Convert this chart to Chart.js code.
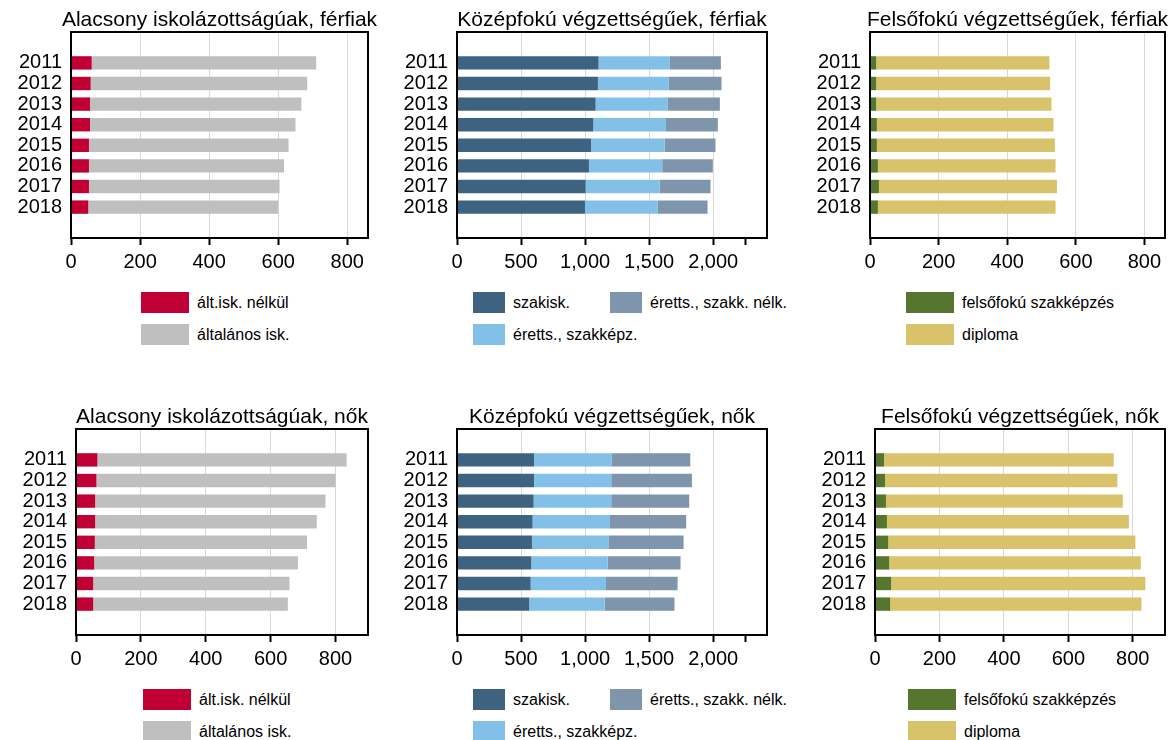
<!DOCTYPE html>
<html lang="hu">
<head>
<meta charset="utf-8">
<title>Végzettség szerinti megoszlás, 2011–2018</title>
<script src="https://cdn.jsdelivr.net/npm/chart.js@4.4.1/dist/chart.umd.min.js"></script>
<style>
  html, body { margin: 0; padding: 0; background: #fff; }
  body {
    width: 1169px; height: 740px; position: relative; overflow: hidden;
    font-family: "Liberation Sans", Arial, sans-serif;
  }
  .panel { position: absolute; }
  .legend-item {
    position: absolute; display: flex; align-items: center;
    height: 21px; white-space: nowrap; font-size: 16px; color: #000;
  }
  .legend-item .box { display: inline-block; height: 21px; margin-right: 8px; }
</style>
</head>
<body>
<div class="panel" id="p1"><canvas id="c1"></canvas></div>
<div class="panel" id="p2"><canvas id="c2"></canvas></div>
<div class="panel" id="p3"><canvas id="c3"></canvas></div>
<div class="panel" id="p4"><canvas id="c4"></canvas></div>
<div class="panel" id="p5"><canvas id="c5"></canvas></div>
<div class="panel" id="p6"><canvas id="c6"></canvas></div>
<script>
const years = ["2011", "2012", "2013", "2014", "2015", "2016", "2017", "2018"];

// alacsony iskolázottságúak
const noPrimaryMen = [60, 57, 55, 55, 52, 52, 52, 50];
const primaryMen = [650, 627, 612, 595, 578, 565, 552, 550];
const noPrimaryWomen = [66, 63, 59, 59, 58, 56, 53, 53];
const primaryWomen = [768, 737, 710, 683, 654, 628, 605, 600];

// középfokú végzettségűek
const vocationalMen = [1105, 1100, 1082, 1064, 1046, 1030, 1004, 999];
const maturaVocMen = [557, 554, 564, 567, 574, 572, 577, 569];
const maturaOnlyMen = [398, 411, 406, 405, 398, 395, 398, 388];
const vocationalWomen = [601, 601, 598, 590, 585, 580, 575, 564];
const maturaVocWomen = [608, 603, 606, 604, 601, 596, 588, 588];
const maturaOnlyWomen = [612, 630, 609, 595, 583, 569, 559, 546];

// felsőfokú végzettségűek
const higherVocMen = [18, 18, 18, 20, 20, 23, 26, 23];
const degreeMen = [505, 507, 511, 515, 519, 518, 519, 518];
const higherVocWomen = [28, 31, 34, 37, 41, 44, 50, 47];
const degreeWomen = [713, 721, 735, 751, 767, 781, 789, 780];

const lowTicks = [0, 200, 400, 600, 800];
const lowTickLabels = ["0", "200", "400", "600", "800"];
const midTicks = [0, 500, 1000, 1500, 2000, 2250];
const midTickLabels = ["0", "500", "1,000", "1,500", "2,000", ""];

const COLORS = {
  noPrimary: "#C00035",
  primary: "#BFBFBF",
  vocational: "#3E6381",
  maturaVoc: "#83C0E8",
  maturaOnly: "#7E95AC",
  higherVoc: "#56762F",
  degree: "#D8C26A",
  grid: "#D9D9D9",
};

Chart.defaults.font.family = '"Liberation Sans", Arial, sans-serif';
Chart.defaults.color = "#000";

// keret a rajzterület körül + cím a rajzterület közepére
const panelDecor = {
  id: "panelDecor",
  afterDatasetsDraw(chart, args, opts) {
    const { ctx, chartArea: a } = chart;
    ctx.save();
    ctx.strokeStyle = "#000";
    ctx.lineWidth = 2;
    ctx.strokeRect(a.left, a.top, a.right - a.left, a.bottom - a.top);
    ctx.fillStyle = "#000";
    ctx.font = '21px "Liberation Sans", Arial, sans-serif';
    ctx.textAlign = "center";
    ctx.textBaseline = "alphabetic";
    ctx.fillText(opts.text, (a.left + a.right) / 2, a.top - 6);
    ctx.restore();
  },
};

const panels = [
  {
    id: 1, title: "Alacsony iskolázottságúak, férfiak",
    left: 0, top: 0, padTop: 32, axisW: 71, plotW: 297, padRight: 12,
    max: 860, ticks: lowTicks, tickLabels: lowTickLabels,
    legend: { cols: [141], rows: [292, 324], boxW: 48 },
    series: [
      { label: "ált.isk. nélkül", data: noPrimaryMen, color: COLORS.noPrimary },
      { label: "általános isk.", data: primaryMen, color: COLORS.primary },
    ],
  },
  {
    id: 2, title: "Középfokú végzettségűek, férfiak",
    left: 390, top: 0, padTop: 32, axisW: 67, plotW: 310, padRight: 15,
    max: 2420, ticks: midTicks, tickLabels: midTickLabels,
    legend: { cols: [473, 610], rows: [292, 324], boxW: 32 },
    series: [
      { label: "szakisk.", data: vocationalMen, color: COLORS.vocational },
      { label: "éretts., szakképz.", data: maturaVocMen, color: COLORS.maturaVoc },
      { label: "éretts., szakk. nélk.", data: maturaOnlyMen, color: COLORS.maturaOnly },
    ],
  },
  {
    id: 3, title: "Felsőfokú végzettségűek, férfiak",
    left: 790, top: 0, padTop: 32, axisW: 80, plotW: 295, padRight: 4,
    max: 860, ticks: lowTicks, tickLabels: lowTickLabels,
    legend: { cols: [906], rows: [292, 324], boxW: 48 },
    series: [
      { label: "felsőfokú szakképzés", data: higherVocMen, color: COLORS.higherVoc },
      { label: "diploma", data: degreeMen, color: COLORS.degree },
    ],
  },
  {
    id: 4, title: "Alacsony iskolázottságúak, nők",
    left: 0, top: 395, padTop: 34, axisW: 76, plotW: 292, padRight: 12,
    max: 900, ticks: lowTicks, tickLabels: lowTickLabels,
    legend: { cols: [143], rows: [689, 721], boxW: 48 },
    series: [
      { label: "ált.isk. nélkül", data: noPrimaryWomen, color: COLORS.noPrimary },
      { label: "általános isk.", data: primaryWomen, color: COLORS.primary },
    ],
  },
  {
    id: 5, title: "Középfokú végzettségűek, nők",
    left: 390, top: 395, padTop: 34, axisW: 67, plotW: 310, padRight: 15,
    max: 2420, ticks: midTicks, tickLabels: midTickLabels,
    legend: { cols: [473, 610], rows: [689, 721], boxW: 32 },
    series: [
      { label: "szakisk.", data: vocationalWomen, color: COLORS.vocational },
      { label: "éretts., szakképz.", data: maturaVocWomen, color: COLORS.maturaVoc },
      { label: "éretts., szakk. nélk.", data: maturaOnlyWomen, color: COLORS.maturaOnly },
    ],
  },
  {
    id: 6, title: "Felsőfokú végzettségűek, nők",
    left: 790, top: 395, padTop: 34, axisW: 85, plotW: 290, padRight: 4,
    max: 900, ticks: lowTicks, tickLabels: lowTickLabels,
    legend: { cols: [908], rows: [689, 721], boxW: 48 },
    series: [
      { label: "felsőfokú szakképzés", data: higherVocWomen, color: COLORS.higherVoc },
      { label: "diploma", data: degreeWomen, color: COLORS.degree },
    ],
  },
];

const PLOT_H = 206;
const X_AXIS_H = 40;

function buildLegend(p, chart) {
  chart.data.datasets.forEach((ds, i) => {
    const item = document.createElement("div");
    item.className = "legend-item";
    item.style.left = p.legend.cols[Math.floor(i / 2)] + "px";
    item.style.top = p.legend.rows[i % 2] + "px";
    const box = document.createElement("span");
    box.className = "box";
    box.style.width = p.legend.boxW + "px";
    box.style.background = ds.backgroundColor;
    const text = document.createElement("span");
    text.textContent = ds.label;
    item.append(box, text);
    document.body.appendChild(item);
  });
}

function initPanel(p) {
  const wrap = document.getElementById("p" + p.id);
  wrap.style.left = p.left + "px";
  wrap.style.top = p.top + "px";
  wrap.style.width = p.axisW + p.plotW + p.padRight + "px";
  wrap.style.height = p.padTop + PLOT_H + X_AXIS_H + "px";

  // üres kategória a két szélén, hogy legyen hely az első és utolsó sáv körül
  const labels = ["", ...years, ""];

  const chart = new Chart(document.getElementById("c" + p.id), {
    type: "bar",
    data: {
      labels: labels,
      datasets: p.series.map((s) => ({
        label: s.label,
        data: [null, ...s.data, null],
        backgroundColor: s.color,
        borderWidth: 0,
        barPercentage: 0.65,
        categoryPercentage: 1,
      })),
    },
    options: {
      indexAxis: "y",
      responsive: true,
      maintainAspectRatio: false,
      animation: false,
      events: [],
      layout: { padding: { top: p.padTop, right: p.padRight, left: 0, bottom: 0 } },
      plugins: {
        legend: { display: false },
        tooltip: { enabled: false },
        panelDecor: { text: p.title },
      },
      scales: {
        x: {
          type: "linear",
          position: "bottom",
          stacked: true,
          min: 0,
          max: p.max,
          afterBuildTicks: (scale) => {
            scale.ticks = p.ticks.map((v) => ({ value: v }));
          },
          afterFit: (scale) => {
            scale.height = X_AXIS_H;
          },
          grid: {
            color: (c) => (c.index > 0 && p.tickLabels[c.index] !== "" ? COLORS.grid : "rgba(0,0,0,0)"),
            lineWidth: 1,
            drawTicks: true,
            tickLength: 7,
            tickColor: "#000",
            tickWidth: 2,
          },
          border: { display: false },
          ticks: {
            autoSkip: false,
            maxRotation: 0,
            padding: 5,
            color: "#000",
            font: { size: 20 },
            callback: (value, index) => p.tickLabels[index],
          },
        },
        y: {
          type: "category",
          stacked: true,
          offset: true,
          afterFit: (scale) => {
            scale.width = p.axisW;
          },
          grid: { display: false, drawTicks: false },
          border: { display: false },
          ticks: {
            autoSkip: false,
            padding: 9,
            color: "#000",
            font: { size: 20 },
          },
        },
      },
    },
    plugins: [panelDecor],
  });

  buildLegend(p, chart);
}

panels.forEach(initPanel);
</script>
</body>
</html>
